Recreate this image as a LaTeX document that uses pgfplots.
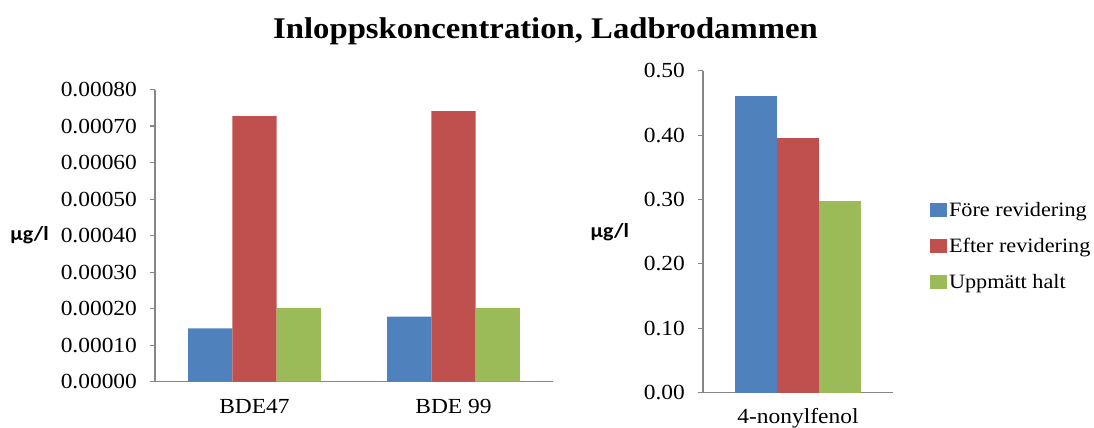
\documentclass[border=0pt]{standalone}
\usepackage{pgfplots}
\pgfplotsset{compat=1.18}
\usepackage{fontspec}
\setmainfont[FakeStretch=1.09]{Liberation Serif}
\newfontfamily\unitfont[FakeStretch=1.1]{Carlito}

\definecolor{fore}{HTML}{4F81BD}
\definecolor{efter}{HTML}{C0504D}
\definecolor{uppmatt}{HTML}{9BBB59}
\definecolor{axisgray}{HTML}{868686}

\pgfplotsset{
  excelbars/.style={
    scale only axis,
    axis lines*=left,
    axis line style={axisgray, line width=0.55pt},
    tick align=outside,
    major tick length=2.5pt,
    tick style={axisgray, line width=0.55pt},
    ymin=0,
    ybar,
    bar width=0.222,
    scaled y ticks=false,
    /pgf/number format/assume math mode=true,
    ticklabel style={font=\fontsize{10.75}{12}\selectfont, text=black},
    yticklabel style={xshift=-3pt},
    major x tick style={draw=none},
    extra x tick style={tick style={axisgray, line width=0.55pt}, major tick length=2.5pt},
    extra x tick labels={},
    xtick=data,
    ylabel={\unitfont\bfseries µg/l},
    ylabel style={rotate=-90, anchor=center, font=\fontsize{10}{12}\selectfont},
  },
}

\begin{document}
\begin{tikzpicture}
\useasboundingbox (0,0) rectangle (547pt,214pt);

\node[anchor=base, font=\bfseries\fontsize{15}{18}\selectfont] at (272.75pt,194.85pt)
  {Inloppskoncentration, Ladbrodammen};

% BDE congeners
\begin{axis}[
  excelbars,
  at={(77.5pt,23.15pt)}, anchor=south west,
  width=199pt, height=146.1pt,
  xmin=-0.5, xmax=1.5,
  ymax=0.0008,
  ytick={0,0.0001,0.0002,0.0003,0.0004,0.0005,0.0006,0.0007,0.0008},
  yticklabel style={/pgf/number format/.cd, fixed, fixed zerofill, precision=5},
  xticklabels={BDE47, BDE 99},
  xticklabel style={yshift=-3pt},
  extra x ticks={-0.5,0.5,1.5},
  ylabel style={at={(axis description cs:-0.315,0.5)}},
]
\addplot[fill=fore, draw=none, bar shift=-0.222] coordinates {(0,0.000146) (1,0.000178)};
\addplot[fill=efter, draw=none, bar shift=0] coordinates {(0,0.000727) (1,0.000741)};
\addplot[fill=uppmatt, draw=none, bar shift=0.222] coordinates {(0,0.000202) (1,0.000202)};
\end{axis}

% 4-nonylfenol
\begin{axis}[
  excelbars,
  at={(351.5pt,17.65pt)}, anchor=south west,
  width=95pt, height=161pt,
  xmin=-0.5, xmax=0.5,
  ymax=0.5,
  ytick={0,0.1,0.2,0.3,0.4,0.5},
  yticklabel style={/pgf/number format/.cd, fixed, fixed zerofill, precision=2},
  xticklabels={4-nonylfenol},
  xticklabel style={yshift=-1.6pt},
  extra x ticks={-0.5,0.5},
  ylabel style={at={(axis description cs:-0.49,0.5)}},
  legend style={draw=none, fill=none, at={(axis description cs:1.195,0.591)}, anchor=north west,
    font=\fontsize{10.2}{12}\selectfont, row sep=9pt, column sep=1pt, inner sep=0pt,
    nodes={inner sep=0pt, text height=7pt, text depth=2pt, anchor=base west}},
  legend cell align=left,
  legend image code/.code={\draw[#1, draw=none] (0pt,0pt) rectangle (8.3pt,6.7pt);},
]
\addplot[fill=fore, draw=none, bar shift=-0.222] coordinates {(0,0.460)};
\addplot[fill=efter, draw=none, bar shift=0] coordinates {(0,0.395)};
\addplot[fill=uppmatt, draw=none, bar shift=0.222] coordinates {(0,0.298)};
\legend{Före revidering, Efter revidering, Uppmätt halt}
\end{axis}
\end{tikzpicture}
\end{document}
